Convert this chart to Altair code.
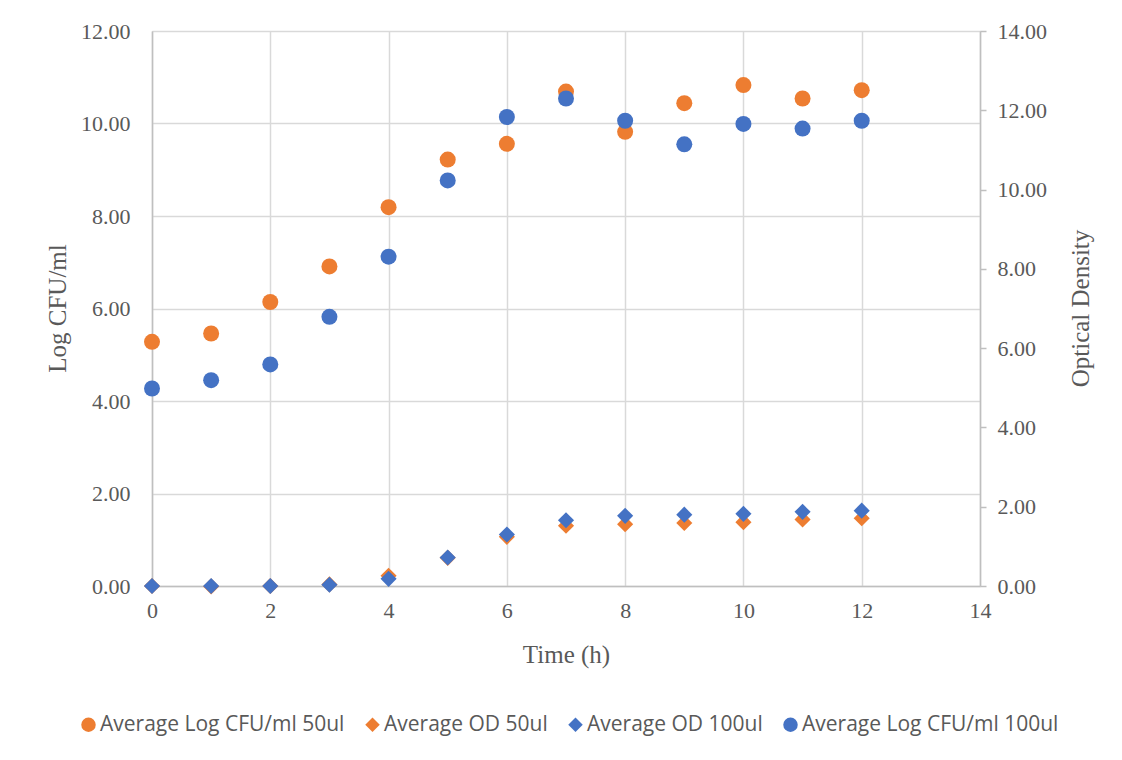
import altair as alt
import pandas as pd

time_h = [0, 1, 2, 3, 4, 5, 6, 7, 8, 9, 10, 11, 12]
log_cfu_50 = [5.28, 5.46, 6.14, 6.91, 8.19, 9.22, 9.56, 10.69, 9.82, 10.44, 10.83, 10.54, 10.72]
log_cfu_100 = [4.27, 4.45, 4.79, 5.82, 7.12, 8.77, 10.14, 10.54, 10.06, 9.55, 9.99, 9.89, 10.06]
od_50 = [0.0, -0.01, 0.0, 0.04, 0.26, 0.71, 1.24, 1.52, 1.56, 1.59, 1.61, 1.68, 1.71]
od_100 = [0.0, 0.0, 0.0, 0.03, 0.18, 0.72, 1.30, 1.66, 1.77, 1.80, 1.82, 1.87, 1.90]

series_names = ["Average Log CFU/ml 50ul", "Average OD 50ul",
                "Average OD 100ul", "Average Log CFU/ml 100ul"]
series_colors = ["#ED7D31", "#ED7D31", "#4472C4", "#4472C4"]
series_shapes = ["circle", "diamond", "diamond", "circle"]

cfu_df = pd.concat([
    pd.DataFrame({"time": time_h, "value": log_cfu_50, "series": series_names[0], "o": 0}),
    pd.DataFrame({"time": time_h, "value": log_cfu_100, "series": series_names[3], "o": 1}),
])
od_df = pd.concat([
    pd.DataFrame({"time": time_h, "value": od_50, "series": series_names[1], "o": 0}),
    pd.DataFrame({"time": time_h, "value": od_100, "series": series_names[2], "o": 1}),
])

TXT = "#595959"
SERIF = "Liberation Serif"

color = alt.Color("series:N", scale=alt.Scale(domain=series_names, range=series_colors),
                  legend=alt.Legend(title=None, orient="none", legendX=-74, legendY=683,
                                    direction="horizontal", columns=4, columnPadding=17,
                                    symbolSize=210, labelFont="Open Sans", labelFontSize=21,
                                    labelColor=TXT, labelOffset=1, labelLimit=500,
                                    symbolStrokeWidth=0))
shape = alt.Shape("series:N", scale=alt.Scale(domain=series_names, range=series_shapes))

xenc = alt.X("time:Q", scale=alt.Scale(domain=[0, 14], nice=False),
             axis=alt.Axis(title="Time (h)", values=list(range(0, 15, 2)), grid=True,
                           gridColor="#D9D9D9", gridWidth=1.5, domainColor="#BFBFBF",
                           domainWidth=1.5, ticks=False, labelPadding=14, labelFlush=False,
                           labelFont=SERIF, labelFontSize=22, labelColor=TXT,
                           titleFont=SERIF, titleFontSize=25, titleColor=TXT,
                           titleFontWeight="normal", titleY=68, titleBaseline="middle"))

cfu = alt.Chart(cfu_df).mark_point(filled=True, opacity=1, size=256).encode(
    x=xenc,
    y=alt.Y("value:Q", scale=alt.Scale(domain=[0, 12], nice=False),
            axis=alt.Axis(title="Log CFU/ml", values=list(range(0, 13, 2)), format=".2f",
                          grid=True, gridColor="#D9D9D9", gridWidth=1.5,
                          domainColor="#BFBFBF", domainWidth=1.5, ticks=False,
                          labelPadding=22, labelFlush=False, labelFont=SERIF, labelFontSize=22,
                          labelColor=TXT, titleFont=SERIF, titleFontSize=25,
                          titleColor=TXT, titleFontWeight="normal", titleX=-95,
                          titleY=277, titleAngle=-90, titleBaseline="middle")),
    color=color, shape=shape, order="o:Q",
)

od = alt.Chart(od_df).mark_point(filled=True, opacity=1, size=260).encode(
    x=xenc,
    y=alt.Y("value:Q", scale=alt.Scale(domain=[0, 14], nice=False),
            axis=alt.Axis(title="Optical Density", orient="right",
                          values=list(range(0, 15, 2)), format=".2f", grid=False,
                          domainColor="#BFBFBF", domainWidth=1.5, ticks=True,
                          tickColor="#BFBFBF", tickWidth=1.5, tickSize=6,
                          labelPadding=11, labelFlush=False, labelFont=SERIF, labelFontSize=22,
                          labelColor=TXT, titleFont=SERIF, titleFontSize=25,
                          titleColor=TXT, titleFontWeight="normal", titleX=100,
                          titleY=277, titleAngle=-90, titleBaseline="middle")),
    color=color, shape=shape, order="o:Q",
)

chart = alt.layer(cfu, od).resolve_scale(y="independent").properties(
    width=828, height=555,
    autosize=alt.AutoSizeParams(type="none"),
    padding={"left": 144, "top": 23, "right": 130, "bottom": 160},
).configure_view(stroke=None).configure(background="white")

chart.save("out.html", embed_options={"renderer": "svg", "actions": False})
